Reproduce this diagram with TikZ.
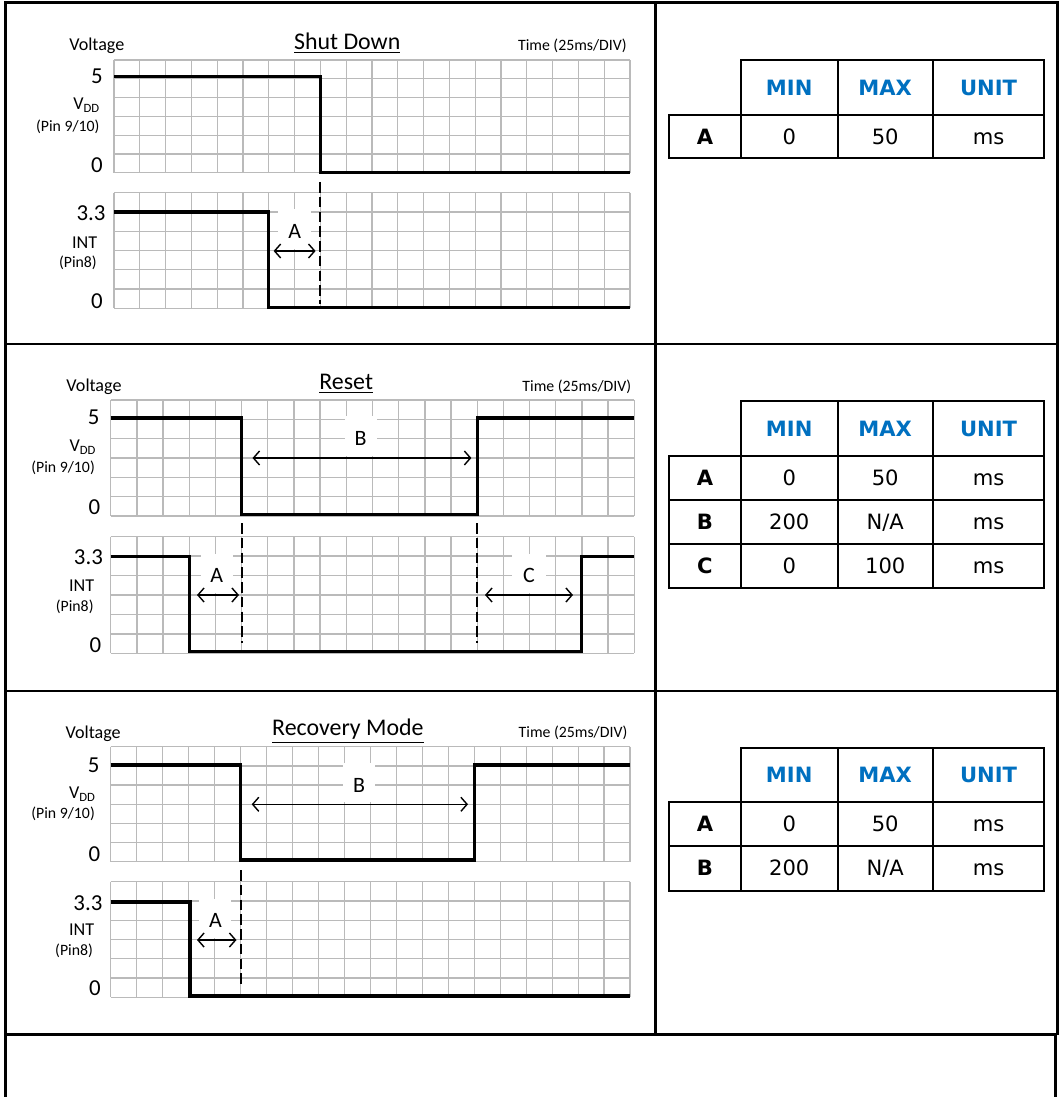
\documentclass[tikz,border=0pt]{standalone}
\usepackage{fontspec}
\setmainfont{Carlito}
\newfontfamily\tabfont{DejaVu Sans}
\usetikzlibrary{arrows.meta}
\definecolor{hdblue}{HTML}{0070C0}
\tikzset{
  tabframe/.style={line width=1.7pt},
  cellframe/.style={line width=1.15pt},
  gridline/.style={draw=black!27, line width=0.75pt},
  wave/.style={line width=1.8pt, line join=miter},
  cutline/.style={line width=1.1pt, dash pattern=on 6pt off 2.4pt},
  dimarrow/.style={line width=0.8pt, {Straight Barb[length=3.5pt,width=8pt]}-{Straight Barb[length=3.5pt,width=8pt]}},
  lbl/.style={inner sep=0pt, font=\fontsize{10.3}{12}\selectfont},
  ttl/.style={inner sep=0pt, font=\fontsize{13.6}{16}\selectfont},
  note/.style={inner sep=0pt, font=\fontsize{9}{11}\selectfont},
  volt/.style={inner sep=0pt, font=\fontsize{13}{15}\selectfont},
  gap/.style={inner sep=0pt, font=\fontsize{12.5}{15}\selectfont},
  cell/.style={inner sep=0pt, text height=8.75pt, text depth=0pt},
  cellhead/.style={cell, text=hdblue, font=\tabfont\bfseries\fontsize{12}{14}\selectfont},
  cellrow/.style={cell, font=\tabfont\bfseries\fontsize{12}{14}\selectfont},
  cellbody/.style={cell, font=\tabfont\fontsize{12}{14}\selectfont},
}
\begin{document}
\begin{tikzpicture}[x=0.02cm, y=-0.02cm]
  \useasboundingbox (0,0) rectangle (1058,1097);

  % outer table
  \draw[tabframe] (5.5,1097) -- (5.5,3) -- (1057,3) -- (1057,1034.5);
  \draw[tabframe] (5.5,344) -- (1057,344);
  \draw[tabframe] (5.5,691) -- (1057,691);
  \draw[tabframe] (5.5,1034.5) -- (1057,1034.5);
  \draw[tabframe] (655,3) -- (655,1034.5);
  \draw[tabframe] (1055.5,1034.5) -- (1055.5,1097);

  % grids
  \foreach \xo/\cw/\ya/\ch in {114/25.8/60/18.8, 114/25.8/192.7/19.25,
      110.7/26.18/400/19.33, 110.7/26.18/536.7/19.43,
      110.7/25.97/746.7/19.17, 110.7/25.97/881.7/19.27}{
    \foreach \i in {0,...,20}
      \draw[gridline] ({\xo+\i*\cw},\ya) -- ++(0,{6*\ch});
    \foreach \j in {0,...,6}
      \draw[gridline] (\xo,{\ya+\j*\ch}) -- ++({20*\cw},0);
  }

  % white patches behind the interval letters
  \fill[white] (278,209.5) rectangle (311,249);
  \fill[white] (345,416) rectangle (377,456);
  \fill[white] (201,553.5) rectangle (233,593);
  \fill[white] (512,553.5) rectangle (546,593);
  \fill[white] (343,763) rectangle (375,802);
  \fill[white] (199,899) rectangle (231,938);

  % Shut Down
  \node[lbl] (volt1) at (96.8,45.7) {Voltage};
  \node[ttl] (title1) at (347.2,43) {\underline{Shut Down}};
  \node[note] (time1) at (572.4,46) {Time (25ms/DIV)};
  \node[volt] (hi1) at (97,76.5) {5};
  \node[lbl] (vdd1) at (86.7,105) {V\textsubscript{DD}};
  \node[note] (pin1) at (67.8,126.7) {(Pin 9/10)};
  \node[volt] (lo1) at (97,165) {0};
  \node[volt] (hiint1) at (91,213) {3.3};
  \node[lbl] (int1) at (84.6,242.3) {INT};
  \node[note] (pinint1) at (77.9,263.3) {(Pin8)};
  \node[volt] (loint1) at (97,301) {0};
  \draw[wave] (114,76.5) -- (320.4,76.5) -- (320.4,172.3) -- (630,172.3);
  \draw[wave] (114,212) -- (268.8,212) -- (268.8,307.5) -- (630,307.5);
  \draw[cutline] (320.4,182) -- (320.4,304);
  \node[gap] (a1) at (294.6,231) {A};
  \draw[dimarrow] (273.6,251) -- (315.6,251);

  % Reset
  \node[lbl] (volt2) at (94,386.7) {Voltage};
  \node[ttl] (title2) at (346.2,384) {\underline{Reset}};
  \node[note] (time2) at (576.8,387.3) {Time (25ms/DIV)};
  \node[volt] (hi2) at (93.6,417.7) {5};
  \node[lbl] (vdd2) at (83,447.3) {V\textsubscript{DD}};
  \node[note] (pin2) at (63.1,468.3) {(Pin 9/10)};
  \node[volt] (lo2) at (94.3,507.3) {0};
  \node[volt] (hiint2) at (88.4,557.3) {3.3};
  \node[lbl] (int2) at (81.6,586) {INT};
  \node[note] (pinint2) at (74.7,607.3) {(Pin8)};
  \node[volt] (loint2) at (95.5,645) {0};
  \draw[wave] (110.7,418) -- (241.6,418) -- (241.6,514.8) -- (477.2,514.8)
    -- (477.2,418) -- (634.3,418);
  \draw[wave] (110.7,556.5) -- (189.2,556.5) -- (189.2,651.5) -- (581.9,651.5)
    -- (581.9,556.5) -- (634.3,556.5);
  \draw[cutline] (241.6,523) -- (241.6,643);
  \draw[cutline] (477.2,523) -- (477.2,643);
  \node[gap] (b2) at (360.5,438.7) {B};
  \draw[dimarrow] (252.5,458) -- (471.4,458);
  \node[gap] (a2) at (216.7,575.6) {A};
  \draw[dimarrow] (197,595) -- (239,595);
  \node[gap] (c2) at (529,575.6) {C};
  \draw[dimarrow] (485,595) -- (573,595);

  % Recovery Mode
  \node[lbl] (volt3) at (93.2,733.3) {Voltage};
  \node[ttl] (title3) at (347.9,731) {\underline{Recovery Mode}};
  \node[note] (time3) at (573,733.3) {Time (25ms/DIV)};
  \node[volt] (hi3) at (93.6,765) {5};
  \node[lbl] (vdd3) at (82.5,794.3) {V\textsubscript{DD}};
  \node[note] (pin3) at (63.1,814) {(Pin 9/10)};
  \node[volt] (lo3) at (94.3,854) {0};
  \node[volt] (hiint3) at (87.9,902.7) {3.3};
  \node[lbl] (int3) at (81.6,930) {INT};
  \node[note] (pinint3) at (74.1,950.7) {(Pin8)};
  \node[volt] (loint3) at (95,988.3) {0};
  \draw[wave] (110.7,765) -- (240.6,765) -- (240.6,860) -- (474.3,860)
    -- (474.3,765) -- (630.1,765);
  \draw[wave] (110.7,902) -- (190,902) -- (190,996) -- (630.1,996);
  \draw[cutline] (240.6,870) -- (240.6,988);
  \node[gap] (b3) at (359,785) {B};
  \draw[dimarrow] (251.7,804.3) -- (468,804.3);
  \node[gap] (a3) at (215.5,920) {A};
  \draw[dimarrow] (197,940) -- (236.5,940);

  % timing tables
  \draw[cellframe] (740.7,60) rectangle (1044.3,115);
  \draw[cellframe] (669,115) rectangle (1044.3,158.3);
  \foreach \x in {740.7,837.7,932.7}
    \draw[cellframe] (\x,60) -- (\x,158.3);

  \draw[cellframe] (740.7,401) rectangle (1044.3,456);
  \draw[cellframe] (669,456) rectangle (1044.3,587.7);
  \draw[cellframe] (669,500) -- (1044.3,500);
  \draw[cellframe] (669,544) -- (1044.3,544);
  \foreach \x in {740.7,837.7,932.7}
    \draw[cellframe] (\x,401) -- (\x,587.7);

  \draw[cellframe] (740.7,748.3) rectangle (1044.3,802);
  \draw[cellframe] (669,802) rectangle (1044.3,890.7);
  \draw[cellframe] (669,845.7) -- (1044.3,845.7);
  \foreach \x in {740.7,837.7,932.7}
    \draw[cellframe] (\x,748.3) -- (\x,890.7);

  \foreach \t/\y in {1/87.5, 2/428.5, 3/775.2}{
    \node[cellhead] (min\t) at (789.2,\y) {MIN};
    \node[cellhead] (max\t) at (885.2,\y) {MAX};
    \node[cellhead] (unit\t) at (988.5,\y) {UNIT};
  }
  \foreach \t/\r/\y/\lo/\up in {1/A/136.7/0/50, 2/A/478/0/50, 2/B/522/200/N\slash A,
      2/C/565.9/0/100, 3/A/823.9/0/50, 3/B/868.2/200/N\slash A}{
    \node[cellrow] (row\t\r) at (704.9,\y) {\r};
    \node[cellbody] (lo\t\r) at (789.2,\y) {\lo};
    \node[cellbody] (up\t\r) at (885.2,\y) {\up};
    \node[cellbody] (ms\t\r) at (988.5,\y) {ms};
  }
\end{tikzpicture}
\end{document}
